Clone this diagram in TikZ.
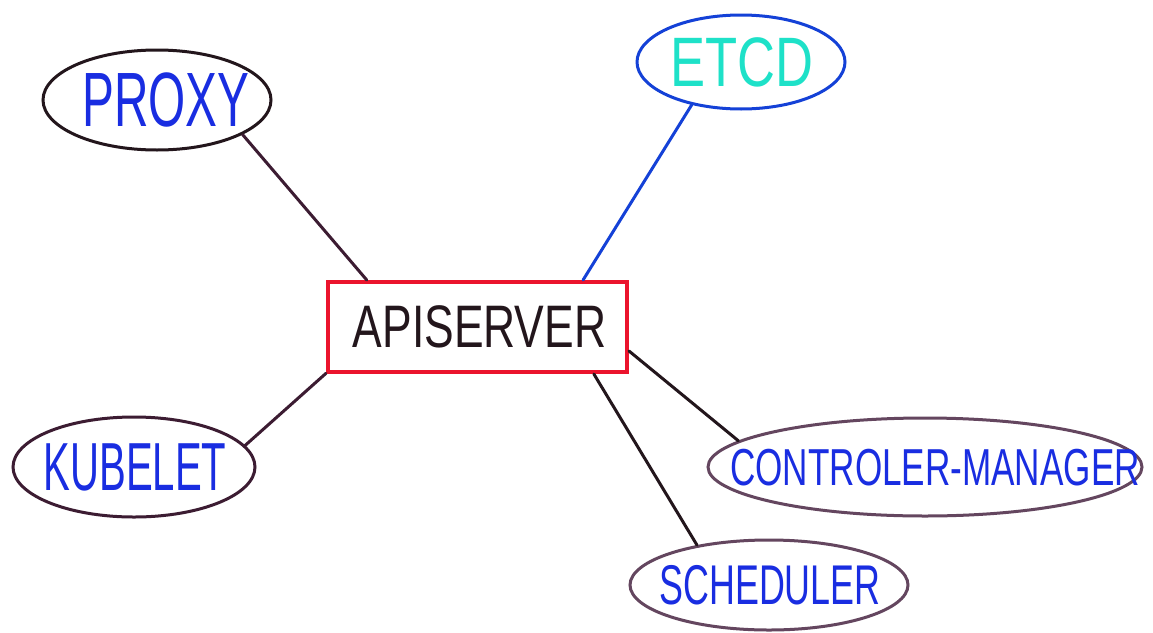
\documentclass[tikz,border=0pt]{standalone}
\usepackage{fontspec}
\usepackage{graphicx}
\setmainfont{Liberation Sans}
\usetikzlibrary{shapes.geometric}
\definecolor{penblue}{RGB}{25,45,225}
\definecolor{pencyan}{RGB}{30,225,200}
\definecolor{etcdblue}{RGB}{20,65,215}
\definecolor{penred}{RGB}{235,20,45}
\definecolor{penink}{RGB}{35,22,28}
\definecolor{plum}{RGB}{60,28,50}
\definecolor{plumgray}{RGB}{100,70,95}
% #1 xscale, #2 size, #3 right shift (doubled), #4 text
\newcommand{\hw}[4]{\makebox[0pt]{\kern#3\raisebox{-0.5\height}[0pt][0pt]{\fontsize{#2}{#2}\selectfont\scalebox{#1}[1]{#4}}}}
\tikzset{
  bubble/.style={ellipse, draw, line width=3pt, inner sep=0pt},
  apibox/.style={rectangle, draw=penred, line width=4pt, inner sep=0pt,
    minimum width=299pt, minimum height=90pt, text=penink},
  wire/.style={line width=3pt, line cap=round}
}
\begin{document}
\begin{tikzpicture}[x=1pt,y=-1pt]
\useasboundingbox (0,0) rectangle (1153,632);
\fill[white] (0,0) rectangle (1153,632);
\node[apibox] (api) at (477.5,327) {\hw{0.74}{60pt}{4pt}{APISERVER}};
\node[bubble, draw=penink, text=penblue, minimum width=228pt, minimum height=100pt] (proxy) at (157,100) {\hw{0.62}{77pt}{18pt}{PROXY}};
\node[bubble, draw=etcdblue, text=pencyan, minimum width=208pt, minimum height=94pt] (etcd) at (741,62) {\hw{0.75}{70pt}{2pt}{ETCD}};
\node[bubble, draw=plum, text=penblue, minimum width=242pt, minimum height=100pt] (kubelet) at (134,467) {\hw{0.59}{68pt}{2pt}{KUBELET}};
\node[bubble, draw=plumgray, text=penblue, minimum width=434pt, minimum height=98pt] (ctrl) at (925,467) {\hw{0.675}{52pt}{20pt}{CONTROLER-MANAGER}};
\node[bubble, draw=plumgray, text=penblue, minimum width=278pt, minimum height=90pt] (sched) at (769,585) {\hw{0.64}{56pt}{2pt}{SCHEDULER}};
\draw[wire, draw=plum] (proxy.-22) -- (api.157);
\draw[wire, draw=etcdblue] (etcd.-139) -- (api.24);
\draw[wire, draw=plum] (kubelet.11) -- (api.197);
\draw[wire, draw=penink] (api.-9.5) -- (ctrl.172.6);
\draw[wire, draw=penink] (api.-22) -- (sched.151);
\end{tikzpicture}
\end{document}
